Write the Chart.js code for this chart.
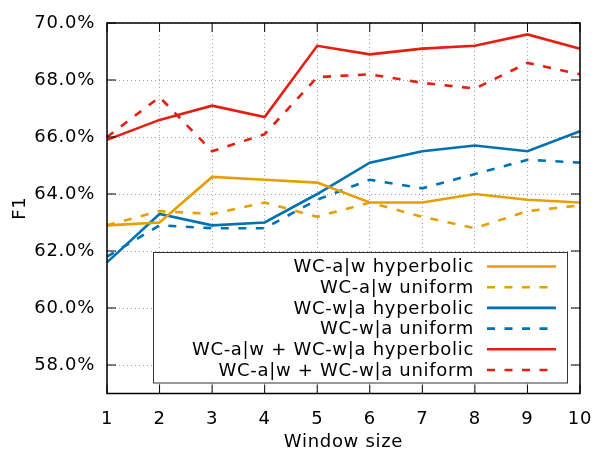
<!DOCTYPE html>
<html>
<head>
<meta charset="utf-8">
<script src="https://cdn.jsdelivr.net/npm/chart.js@4/dist/chart.umd.min.js"></script>
<style>
  html, body { margin: 0; padding: 0; background: #fff; }
  #wrap { width: 596px; height: 455px; }
</style>
</head>
<body>
<div id="wrap"><canvas id="f1Chart"></canvas></div>
<script>
const windowSizes = ['1', '2', '3', '4', '5', '6', '7', '8', '9', '10'];
const yTicks = [58, 60, 62, 64, 66, 68, 70];

const awHyperbolic = [62.9, 63.0, 64.6, 64.5, 64.4, 63.7, 63.7, 64.0, 63.8, 63.7];
const awUniform = [62.9, 63.4, 63.3, 63.7, 63.2, 63.7, 63.2, 62.8, 63.4, 63.6];
const waHyperbolic = [61.6, 63.3, 62.9, 63.0, 64.0, 65.1, 65.5, 65.7, 65.5, 66.2];
const waUniform = [61.8, 62.9, 62.8, 62.8, 63.8, 64.5, 64.2, 64.7, 65.2, 65.1];
const bothHyperbolic = [65.9, 66.6, 67.1, 66.7, 69.2, 68.9, 69.1, 69.2, 69.6, 69.1];
const bothUniform = [66.0, 67.4, 65.5, 66.1, 68.1, 68.2, 67.9, 67.7, 68.6, 68.2];

const ORANGE = '#e69f00';
const BLUE = '#0072b2';
const RED = '#e51e10';
const DASH = [8, 9.5];
const FONT = 'DejaVu Sans';
const SIZE = 18;
const SPACING = '0.7px';

const line = (label, data, color, dashed) => ({
  label: label,
  data: data,
  borderColor: color,
  backgroundColor: color,
  borderWidth: 2.6,
  borderDash: dashed ? DASH : [],
  borderCapStyle: 'butt',
  pointRadius: 0,
  tension: 0,
  fill: false,
});

// gnuplot-like frame: opaque key box, border, inward tick marks
const gnuplotFrame = {
  id: 'gnuplotFrame',
  beforeUpdate(chart) { chart.ctx.letterSpacing = SPACING; },
  beforeDraw(chart) { chart.ctx.letterSpacing = SPACING; },
  afterDatasetsDraw(chart) {
    const ctx = chart.ctx;
    const ca = chart.chartArea;
    const right = ca.right - 12;
    const left = ca.left + 46;
    const top = ca.top + 229;
    const bottom = ca.bottom - 10;
    ctx.save();
    ctx.fillStyle = '#fff';
    ctx.fillRect(left, top, right - left, bottom - top);
    ctx.strokeStyle = '#333';
    ctx.lineWidth = 1;
    ctx.strokeRect(left + 0.5, top + 0.5, right - left - 1, bottom - top - 1);
    ctx.font = SIZE + 'px "' + FONT + '"';
    ctx.letterSpacing = SPACING;
    ctx.textAlign = 'right';
    ctx.textBaseline = 'middle';
    ctx.fillStyle = '#000';
    chart.data.datasets.forEach((ds, i) => {
      const y = top + 14.5 + i * 20.7;
      ctx.fillText(ds.label, right - 94, y + 1);
      ctx.beginPath();
      ctx.strokeStyle = ds.borderColor;
      ctx.lineWidth = ds.borderWidth;
      ctx.setLineDash(ds.borderDash);
      ctx.moveTo(right - 81, y);
      ctx.lineTo(right - 12, y);
      ctx.stroke();
    });
    ctx.restore();
  },
  afterDraw(chart) {
    const ctx = chart.ctx;
    const ca = chart.chartArea;
    const xs = chart.scales.x;
    const ys = chart.scales.y;
    const len = 9;
    ctx.save();
    ctx.strokeStyle = '#000';
    ctx.lineWidth = 1;
    ctx.setLineDash([]);
    ctx.beginPath();
    windowSizes.forEach((w, i) => {
      const px = xs.getPixelForValue(i);
      ctx.moveTo(px, ca.bottom);
      ctx.lineTo(px, ca.bottom - len);
      ctx.moveTo(px, ca.top);
      ctx.lineTo(px, ca.top + len);
    });
    yTicks.forEach(v => {
      const py = ys.getPixelForValue(v);
      ctx.moveTo(ca.left, py);
      ctx.lineTo(ca.left + len, py);
      ctx.moveTo(ca.right, py);
      ctx.lineTo(ca.right - len, py);
    });
    ctx.stroke();
    ctx.lineWidth = 1.5;
    ctx.strokeRect(ca.left, ca.top, ca.right - ca.left, ca.bottom - ca.top);
    ctx.restore();
  },
};

const ctx = document.getElementById('f1Chart').getContext('2d');
new Chart(ctx, {
  type: 'line',
  data: {
    labels: windowSizes,
    datasets: [
      line('WC-a|w hyperbolic', awHyperbolic, ORANGE, false),
      line('WC-a|w uniform', awUniform, ORANGE, true),
      line('WC-w|a hyperbolic', waHyperbolic, BLUE, false),
      line('WC-w|a uniform', waUniform, BLUE, true),
      line('WC-a|w + WC-w|a hyperbolic', bothHyperbolic, RED, false),
      line('WC-a|w + WC-w|a uniform', bothUniform, RED, true),
    ],
  },
  options: {
    responsive: true,
    maintainAspectRatio: false,
    animation: false,
    layout: {
      padding: { top: 23, right: 16, bottom: 0, left: 0 },
    },
    plugins: {
      legend: { display: false },
      tooltip: { enabled: false },
    },
    scales: {
      x: {
        type: 'category',
        offset: false,
        afterFit: s => {
          s.height = 61.5;
          s.paddingLeft = 0;
          s.paddingRight = 0;
        },
        grid: {
          color: '#a0a0a0',
          lineWidth: 1,
          drawTicks: false,
          offset: false,
        },
        border: { display: false, dash: [1, 3] },
        ticks: {
          color: '#000',
          padding: 15,
          maxRotation: 0,
          font: { family: FONT, size: SIZE },
        },
        title: {
          display: true,
          text: 'Window size',
          color: '#000',
          padding: { top: 0, bottom: 2 },
          font: { family: FONT, size: SIZE },
        },
      },
      y: {
        min: 57,
        max: 70,
        afterBuildTicks: s => { s.ticks = yTicks.map(v => ({ value: v })); },
        afterFit: s => {
          s.width = 107;
          s.paddingTop = 0;
          s.paddingBottom = 0;
        },
        grid: {
          color: '#a0a0a0',
          lineWidth: 1,
          drawTicks: false,
        },
        border: { display: false, dash: [1, 3] },
        ticks: {
          color: '#000',
          padding: 12,
          font: { family: FONT, size: SIZE },
          callback: v => v.toFixed(1) + '%',
        },
        title: {
          display: true,
          text: 'F1',
          color: '#000',
          padding: { top: 10, bottom: 0 },
          font: { family: FONT, size: SIZE },
        },
      },
    },
  },
  plugins: [gnuplotFrame],
});
</script>
</body>
</html>
